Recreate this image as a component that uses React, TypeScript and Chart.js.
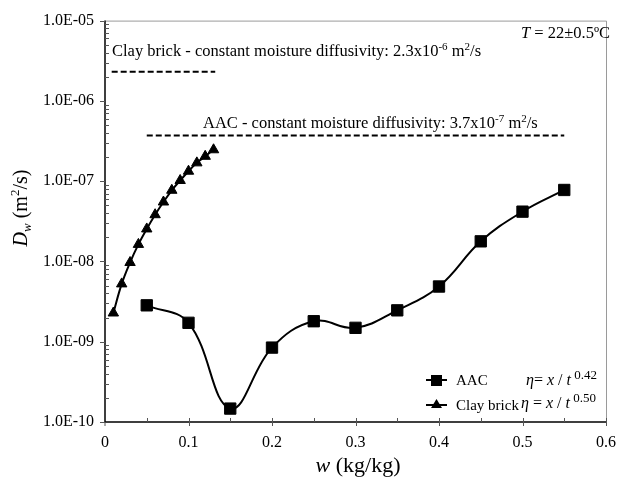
import React, { useEffect, useRef } from "react";
import { Chart, registerables } from "chart.js";

Chart.register(...registerables);

// ---- data ----
const aacX = [0.05, 0.1, 0.15, 0.2, 0.25, 0.3, 0.35, 0.4, 0.45, 0.5, 0.55];
const aacDw = [2.84e-9, 1.72e-9, 1.47e-10, 8.45e-10, 1.8e-9, 1.49e-9, 2.46e-9, 4.87e-9, 1.78e-8, 4.17e-8, 7.77e-8];
const brickX = [0.01, 0.02, 0.03, 0.04, 0.05, 0.06, 0.07, 0.08, 0.09, 0.1, 0.11, 0.12, 0.13];
const brickDw = [2.28e-9, 5.25e-9, 9.7e-9, 1.63e-8, 2.54e-8, 3.82e-8, 5.5e-8, 7.7e-8, 1.02e-7, 1.33e-7, 1.69e-7, 2.04e-7, 2.46e-7];
const brickConstX = [0.008, 0.132];
const brickConst = 2.3e-6;
const aacConstX = [0.05, 0.55];
const aacConst = 3.7e-7;
const xTickValues = [0, 0.1, 0.2, 0.3, 0.4, 0.5, 0.6];
const xTickLabels = ["0", "0.1", "0.2", "0.3", "0.4", "0.5", "0.6"];
const yTickValues = [1e-10, 1e-9, 1e-8, 1e-7, 1e-6, 1e-5];
const yTickLabels = ["1.0E-10", "1.0E-09", "1.0E-08", "1.0E-07", "1.0E-06", "1.0E-05"];

const SERIF = '"Liberation Serif", "Times New Roman", serif';

type Seg = { t: string; i?: boolean; sup?: boolean; sub?: boolean; r?: number };

function segFont(s: Seg, size: number) {
  const sz = s.sup || s.sub ? Math.round(size * (s.r ?? 0.65)) : size;
  return `${s.i ? "italic " : ""}${sz}px ${SERIF}`;
}

function richWidth(ctx: CanvasRenderingContext2D, segs: Seg[], size: number) {
  let w = 0;
  for (const s of segs) {
    ctx.font = segFont(s, size);
    w += ctx.measureText(s.t).width;
  }
  return w;
}

function drawRich(ctx: CanvasRenderingContext2D, x: number, y: number, segs: Seg[], size: number, align: "left" | "center" | "right" = "left") {
  const w = richWidth(ctx, segs, size);
  let cx = align === "left" ? x : align === "center" ? x - w / 2 : x - w;
  ctx.textAlign = "left";
  ctx.textBaseline = "alphabetic";
  ctx.fillStyle = "#000";
  for (const s of segs) {
    ctx.font = segFont(s, size);
    const dy = s.sup ? -size * 0.38 : s.sub ? size * 0.22 : 0;
    ctx.fillText(s.t, cx, y + dy);
    cx += ctx.measureText(s.t).width;
  }
}

const decorPlugin = {
  id: "decor",
  afterDatasetsDraw(chart: any) {
    const { ctx, chartArea: a, scales } = chart;
    const xs = scales.x;
    const ys = scales.y;
    ctx.save();
    // gray frame top/right
    ctx.strokeStyle = "#9a9a9a";
    ctx.lineWidth = 1;
    ctx.beginPath();
    ctx.moveTo(a.left, a.top + 0.5);
    ctx.lineTo(a.right + 0.5, a.top + 0.5);
    ctx.lineTo(a.right + 0.5, a.bottom);
    ctx.stroke();
    // axes black
    ctx.strokeStyle = "#000";
    ctx.lineWidth = 1.5;
    ctx.beginPath();
    ctx.moveTo(a.left, a.top);
    ctx.lineTo(a.left, a.bottom);
    ctx.lineTo(a.right, a.bottom);
    ctx.stroke();
    // ticks
    ctx.lineWidth = 1;
    ctx.strokeStyle = "#555";
    ctx.beginPath();
    for (let e = -10; e < -5; e++) {
      for (let m = 2; m <= 9; m++) {
        const py = Math.round(ys.getPixelForValue(m * Math.pow(10, e))) + 0.5;
        ctx.moveTo(a.left, py);
        ctx.lineTo(a.left + 4, py);
      }
    }
    for (const v of yTickValues) {
      const py = Math.round(ys.getPixelForValue(v)) + 0.5;
      ctx.moveTo(a.left - 5, py);
      ctx.lineTo(a.left, py);
    }
    for (let k = 0; k < 12; k++) {
      const v = k * 0.05 + 0.05;
      const px = Math.round(xs.getPixelForValue(v)) + 0.5;
      ctx.moveTo(px, a.bottom - 4);
      ctx.lineTo(px, a.bottom + (k % 2 === 1 ? 4 : 0));
    }
    ctx.moveTo(a.left, a.bottom);
    ctx.lineTo(a.left, a.bottom + 4);
    ctx.stroke();

    // annotations
    drawRich(ctx, 112, 56, [
      { t: "Clay brick - constant moisture diffusivity: 2.3x10" },
      { t: "-6", sup: true },
      { t: " m" },
      { t: "2", sup: true },
      { t: "/s" },
    ], 16.5);
    drawRich(ctx, 203, 128, [
      { t: "AAC - constant moisture diffusivity: 3.7x10" },
      { t: "-7", sup: true },
      { t: " m" },
      { t: "2", sup: true },
      { t: "/s" },
    ], 16.5);
    drawRich(ctx, 610, 38, [{ t: "T", i: true }, { t: " = 22±0.5ºC" }], 16.5, "right");

    // axis titles
    drawRich(ctx, 358, 472, [{ t: "w", i: true }, { t: " (kg/kg)" }], 22, "center");
    ctx.save();
    ctx.translate(27, 208);
    ctx.rotate(-Math.PI / 2);
    drawRich(ctx, 0, 0, [
      { t: "D", i: true },
      { t: "w", i: true, sub: true },
      { t: " (m" },
      { t: "2", sup: true },
      { t: "/s)" },
    ], 20, "center");
    ctx.restore();

    // legend
    ctx.strokeStyle = "#000";
    ctx.fillStyle = "#000";
    ctx.lineWidth = 2;
    ctx.beginPath();
    ctx.moveTo(426, 380);
    ctx.lineTo(447, 380);
    ctx.moveTo(426, 405);
    ctx.lineTo(447, 405);
    ctx.stroke();
    ctx.fillRect(431, 375, 11, 11);
    ctx.beginPath();
    ctx.moveTo(436.5, 399);
    ctx.lineTo(442, 408);
    ctx.lineTo(431, 408);
    ctx.closePath();
    ctx.fill();
    drawRich(ctx, 456, 385, [{ t: "AAC" }], 15);
    drawRich(ctx, 456, 410, [{ t: "Clay brick" }], 15);
    drawRich(ctx, 526, 385, [
      { t: "η", i: true }, { t: "= " }, { t: "x", i: true }, { t: " / " }, { t: "t", i: true }, { t: " 0.42", sup: true, r: 0.8 },
    ], 16);
    drawRich(ctx, 521, 408, [
      { t: "η", i: true }, { t: " = " }, { t: "x", i: true }, { t: " / " }, { t: "t", i: true }, { t: " 0.50", sup: true, r: 0.8 },
    ], 16);
    ctx.restore();
  },
};

export default function App() {
  const ref = useRef<HTMLCanvasElement | null>(null);
  useEffect(() => {
    if (!ref.current) return;
    const chart = new Chart(ref.current, {
      type: "line",
      data: {
        datasets: [
          {
            label: "AAC",
            data: aacX.map((x, i) => ({ x, y: aacDw[i] })),
            borderColor: "#000",
            backgroundColor: "#000",
            borderWidth: 2,
            pointStyle: "rect",
            pointRadius: 8,
            pointBorderWidth: 1,
            tension: 0.4,
          },
          {
            label: "Clay brick",
            data: brickX.map((x, i) => ({ x, y: brickDw[i] })),
            borderColor: "#000",
            backgroundColor: "#000",
            borderWidth: 2,
            pointStyle: "triangle",
            pointRadius: 6,
            pointBorderWidth: 1,
            tension: 0.4,
          },
          {
            label: "Clay const",
            data: brickConstX.map((x) => ({ x, y: brickConst })),
            borderColor: "#000",
            borderWidth: 2,
            borderDash: [6, 3],
            pointRadius: 0,
          },
          {
            label: "AAC const",
            data: aacConstX.map((x) => ({ x, y: aacConst })),
            borderColor: "#000",
            borderWidth: 2,
            borderDash: [6, 3],
            pointRadius: 0,
          },
        ],
      },
      options: {
        responsive: false,
        animation: false,
        layout: { padding: { top: 16, right: 12, left: 0, bottom: 0 } },
        plugins: { legend: { display: false }, tooltip: { enabled: false } },
        scales: {
          x: {
            type: "linear",
            min: 0,
            max: 0.6,
            grid: { display: false, drawTicks: false, tickLength: 0 },
            border: { display: false },
            afterBuildTicks: (s: any) => {
              s.ticks = xTickValues.map((v) => ({ value: v }));
            },
            afterFit: (s: any) => {
              s.height = 57;
            },
            ticks: {
              color: "#000",
              padding: 11,
              maxRotation: 0,
              font: { family: SERIF, size: 16 },
              callback: (v: any) => xTickLabels[xTickValues.findIndex((t) => Math.abs(t - v) < 1e-9)] ?? "",
            },
          },
          y: {
            type: "logarithmic",
            min: 1e-10,
            max: 1e-5,
            grid: { display: false, drawTicks: false, tickLength: 0 },
            border: { display: false },
            afterBuildTicks: (s: any) => {
              s.ticks = yTickValues.map((v) => ({ value: v }));
            },
            afterFit: (s: any) => {
              s.width = 105;
            },
            ticks: {
              color: "#000",
              padding: 11,
              font: { family: SERIF, size: 16 },
              callback: (v: any) => {
                const idx = yTickValues.findIndex((t) => Math.abs(Math.log10(t) - Math.log10(v)) < 1e-6);
                return idx >= 0 ? yTickLabels[idx] : "";
              },
            },
          },
        },
      },
      plugins: [decorPlugin],
    });
    return () => chart.destroy();
  }, []);
  return (
    <div style={{ position: "fixed", left: 0, top: 0, width: 627, height: 479, background: "#fff" }}>
      <canvas ref={ref} width={627} height={479} style={{ width: 627, height: 479 }} />
    </div>
  );
}
